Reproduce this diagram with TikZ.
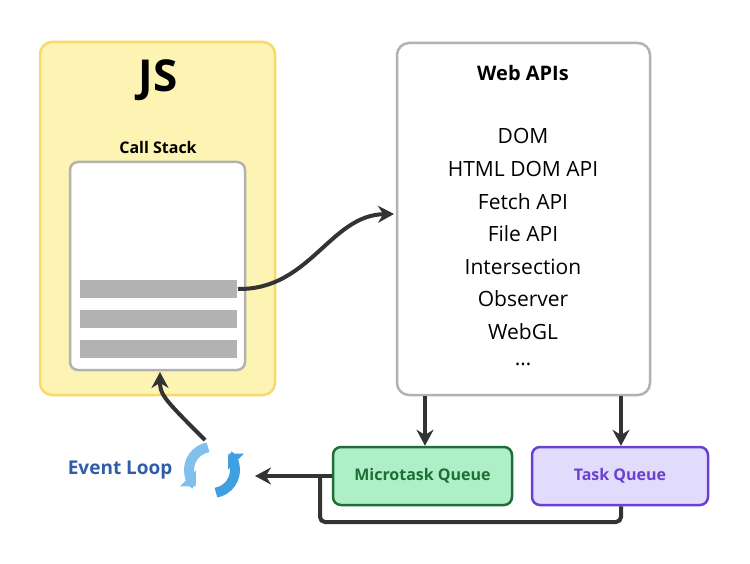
\documentclass[tikz,border=0pt]{standalone}
\usepackage{fontspec}
\setmainfont{Open Sans}
\usetikzlibrary{arrows.meta}
\definecolor{jsfill}{HTML}{FDF3B2}
\definecolor{jsline}{HTML}{F7DA6B}
\definecolor{microfill}{HTML}{AEEFC8}
\definecolor{microline}{HTML}{1E6E35}
\definecolor{taskfill}{HTML}{E1DCFB}
\definecolor{taskline}{HTML}{6B3FD0}
\definecolor{loopblue}{HTML}{2F5DA8}
\definecolor{ringlight}{HTML}{7FC0EC}
\definecolor{ringdark}{HTML}{3F9FE0}
\tikzset{
  box/.style={draw, rounded corners=12pt, line width=2.5pt},
  bar/.style={fill=gray!60, draw=none},
  conn/.style={line width=4pt, draw=black!80, -{Stealth[length=16pt,width=17pt]}},
  api/.style={font=\fontsize{21}{24}\selectfont}
}
\begin{document}
\begin{tikzpicture}[x=1pt, y=-1pt]
    \useasboundingbox (0,0) rectangle (750,564);

    % JS ENGINE
    \draw[box, fill=jsfill, draw=jsline] (40,42) rectangle (275,395);
    \node[font=\bfseries\fontsize{44}{48}\selectfont] (js) at (158,80) {JS};
    \node[font=\bfseries\fontsize{16}{18}\selectfont] (stacklabel) at (158,148) {Call Stack};
    \draw[box, fill=white, draw=gray!60, rounded corners=8pt] (70,162) rectangle (245,370);
    \coordinate (stackbottom) at (160,372);
    \fill[bar] (80,280) rectangle (237,298);
    \fill[bar] (80,310) rectangle (237,328);
    \fill[bar] (80,340) rectangle (237,358);
    \coordinate (frame) at (238,289);

    % WEB APIs
    \draw[box, fill=white, draw=gray!60] (397,43) rectangle (650,395);
    \node[font=\bfseries\fontsize{20}{22}\selectfont] (apis) at (523,73) {Web APIs};
    \foreach \t [count=\i] in {DOM, HTML DOM API, Fetch API, File API, Intersection, Observer, WebGL, {\ldots}}
        \node[api] (api\i) at (523,{136+32.6*(\i-1)}) {\t};
    \coordinate (apiin) at (394,214);
    \coordinate (apimicro) at (425,396);
    \coordinate (apitask) at (621,396);

    % QUEUES
    \node[box, fill=microfill, draw=microline, rounded corners=8pt, minimum width=179pt, minimum height=58pt,
          font=\bfseries\fontsize{16}{18}\selectfont, text=microline] (micro) at (422.5,476) {Microtask Queue};
    \node[box, fill=taskfill, draw=taskline, rounded corners=8pt, minimum width=176pt, minimum height=58pt,
          font=\bfseries\fontsize{16}{18}\selectfont, text=taskline] (task) at (620,476) {Task Queue};

    % EVENT LOOP
    \coordinate (loop) at (212,470);
    \draw[line width=10pt, ringdark, -{Triangle[length=11pt,width=22pt]}] (loop) ++(80:23) arc (80:-45:23);
    \draw[line width=10pt, ringlight, -{Triangle[length=11pt,width=22pt]}] (loop) ++(260:23) arc (260:135:23);
    \node[font=\bfseries\fontsize{19}{22}\selectfont, text=loopblue, anchor=east] (looplabel) at (176,470) {Event Loop};
    \coordinate (loopin) at (255,476);
    \coordinate (looptop) at (205,440);

    % CONNECTORS
    \draw[conn] (frame) .. controls (310,290) and (330,215) .. (apiin);
    \draw[conn] (apimicro) -- (micro.north -| apimicro);
    \draw[conn] (apitask) -- (task.north -| apitask);
    \draw[conn] (micro.west) -- (loopin);
    \draw[line width=4pt, draw=black!80, rounded corners=5pt] (task.south -| apitask) |- (320,522) -- (320,476);
    \draw[conn] (looptop) .. controls (165,400) and (160,395) .. (stackbottom);
\end{tikzpicture}
\end{document}
